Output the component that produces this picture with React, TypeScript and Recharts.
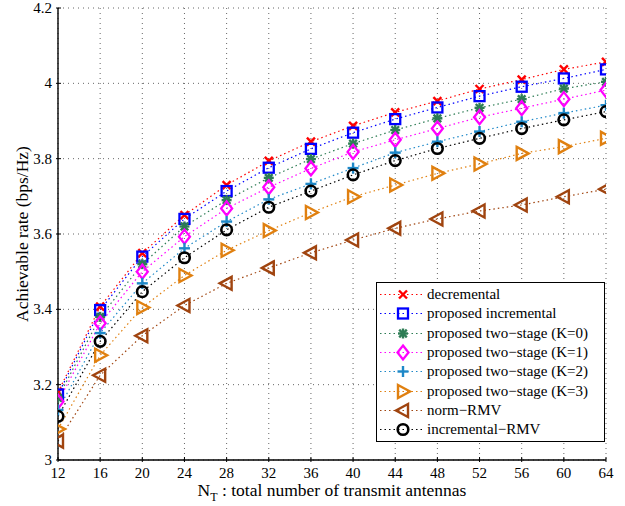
import { LineChart, Line, XAxis, YAxis, CartesianGrid, Legend } from "recharts";

const antennas = [12, 16, 20, 24, 28, 32, 36, 40, 44, 48, 52, 56, 60, 64];
const yTicks = [3, 3.2, 3.4, 3.6, 3.8, 4, 4.2];

const decremental = [3.18, 3.407, 3.549, 3.65, 3.73, 3.794, 3.845, 3.887, 3.923, 3.953, 3.985, 4.01, 4.037, 4.057];
const incremental = [3.174, 3.398, 3.54, 3.64, 3.714, 3.776, 3.826, 3.869, 3.905, 3.936, 3.966, 3.991, 4.013, 4.037];
const twoStageK0 = [3.165, 3.38, 3.52, 3.62, 3.69, 3.749, 3.799, 3.84, 3.876, 3.907, 3.935, 3.958, 3.986, 4.004];
const twoStageK1 = [3.155, 3.363, 3.5, 3.593, 3.668, 3.724, 3.774, 3.818, 3.85, 3.88, 3.91, 3.934, 3.958, 3.982];
const twoStageK2 = [3.133, 3.337, 3.469, 3.562, 3.633, 3.692, 3.733, 3.775, 3.816, 3.845, 3.872, 3.898, 3.921, 3.942];
const twoStageK3 = [3.082, 3.278, 3.405, 3.49, 3.557, 3.609, 3.657, 3.699, 3.73, 3.761, 3.786, 3.814, 3.832, 3.854];
const normRMV = [3.05, 3.225, 3.33, 3.41, 3.469, 3.51, 3.55, 3.584, 3.615, 3.64, 3.661, 3.677, 3.699, 3.719];
const incrementalRMV = [3.116, 3.315, 3.447, 3.537, 3.611, 3.671, 3.714, 3.757, 3.795, 3.827, 3.854, 3.88, 3.903, 3.925];

const serif = "'Liberation Serif', 'Times New Roman', Times, serif";

type MarkerKind = "cross" | "square" | "star" | "diamond" | "plus" | "triRight" | "triLeft" | "circle";

interface Series {
  key: string;
  name: string;
  color: string;
  marker: MarkerKind;
  values: number[];
}

const series: Series[] = [
  { key: "dec", name: "decremental", color: "#ff0000", marker: "cross", values: decremental },
  { key: "inc", name: "proposed incremental", color: "#0000ff", marker: "square", values: incremental },
  { key: "k0", name: "proposed two\u2212stage (K=0)", color: "#2e7d55", marker: "star", values: twoStageK0 },
  { key: "k1", name: "proposed two\u2212stage (K=1)", color: "#ff00ff", marker: "diamond", values: twoStageK1 },
  { key: "k2", name: "proposed two\u2212stage (K=2)", color: "#1e88c8", marker: "plus", values: twoStageK2 },
  { key: "k3", name: "proposed two\u2212stage (K=3)", color: "#e08010", marker: "triRight", values: twoStageK3 },
  { key: "norm", name: "norm\u2212RMV", color: "#a0440f", marker: "triLeft", values: normRMV },
  { key: "incRmv", name: "incremental\u2212RMV", color: "#000000", marker: "circle", values: incrementalRMV },
];

const data = antennas.map((n, i) => {
  const row: Record<string, number> = { n };
  series.forEach((s) => {
    row[s.key] = s.values[i];
  });
  return row;
});

// MATLAB-style marker glyphs
const Marker = ({ kind, cx, cy, color }: { kind: MarkerKind; cx: number; cy: number; color: string }) => {
  switch (kind) {
    case "cross":
      return (
        <g stroke={color} strokeWidth={2.4}>
          <line x1={cx - 4} y1={cy - 4} x2={cx + 4} y2={cy + 4} />
          <line x1={cx - 4} y1={cy + 4} x2={cx + 4} y2={cy - 4} />
        </g>
      );
    case "square":
      return <rect x={cx - 5} y={cy - 5} width={10} height={10} fill="none" stroke={color} strokeWidth={2.3} />;
    case "star":
      return (
        <g stroke={color} strokeWidth={2.4}>
          <line x1={cx - 5} y1={cy} x2={cx + 5} y2={cy} />
          <line x1={cx} y1={cy - 5} x2={cx} y2={cy + 5} />
          <line x1={cx - 3.8} y1={cy - 3.8} x2={cx + 3.8} y2={cy + 3.8} />
          <line x1={cx - 3.8} y1={cy + 3.8} x2={cx + 3.8} y2={cy - 3.8} />
        </g>
      );
    case "diamond":
      return (
        <polygon
          points={`${cx},${cy - 7} ${cx + 5.5},${cy} ${cx},${cy + 7} ${cx - 5.5},${cy}`}
          fill="none"
          stroke={color}
          strokeWidth={2.3}
        />
      );
    case "plus":
      return (
        <g stroke={color} strokeWidth={2.4}>
          <line x1={cx - 5.5} y1={cy} x2={cx + 5.5} y2={cy} />
          <line x1={cx} y1={cy - 5.5} x2={cx} y2={cy + 5.5} />
        </g>
      );
    case "triRight":
      return (
        <polygon
          points={`${cx - 5},${cy - 6.5} ${cx + 7},${cy} ${cx - 5},${cy + 6.5}`}
          fill="none"
          stroke={color}
          strokeWidth={2.4}
        />
      );
    case "triLeft":
      return (
        <polygon
          points={`${cx + 5},${cy - 6.5} ${cx - 7},${cy} ${cx + 5},${cy + 6.5}`}
          fill="none"
          stroke={color}
          strokeWidth={2.4}
        />
      );
    default:
      return <circle cx={cx} cy={cy} r={5.3} fill="none" stroke={color} strokeWidth={2.6} />;
  }
};

const BottomTick = ({ x, y, payload }: any) => (
  <g>
    <line x1={x} x2={x} y1={y} y2={y - 5} stroke="#000" />
    <text x={x} y={y + 16} textAnchor="middle" fontSize={15} fontFamily={serif} fill="#000">
      {payload.value}
    </text>
  </g>
);

const TopTick = ({ x, y }: any) => <line x1={x} x2={x} y1={y} y2={y + 5} stroke="#000" />;

const LeftTick = ({ x, y, payload }: any) => (
  <g>
    <line x1={x} x2={x + 5} y1={y} y2={y} stroke="#000" />
    <text x={x - 4} y={y + 5} textAnchor="end" fontSize={15} fontFamily={serif} fill="#000">
      {payload.value}
    </text>
  </g>
);

const RightTick = ({ x, y }: any) => <line x1={x} x2={x - 5} y1={y} y2={y} stroke="#000" />;

const LegendBox = () => (
  <div
    style={{
      position: "absolute",
      left: 376,
      top: 282,
      width: 227,
      height: 156,
      border: "1px solid #000",
      background: "#fff",
      paddingTop: 2,
      boxSizing: "content-box",
    }}
  >
    {series.map((s) => (
      <div key={s.key} style={{ display: "flex", alignItems: "center", height: 19.3 }}>
        <svg width={48} height={19} style={{ flex: "none" }}>
          <line x1={3} x2={45} y1={9.5} y2={9.5} stroke={s.color} strokeWidth={1.2} strokeDasharray="1.5 3" />
          <Marker kind={s.marker} cx={26} cy={9.5} color={s.color} />
        </svg>
        <span style={{ fontFamily: serif, fontSize: 15, color: "#000", marginLeft: 2, whiteSpace: "nowrap" }}>
          {s.name}
        </span>
      </div>
    ))}
  </div>
);

export default function App() {
  return (
    <div style={{ position: "absolute", left: 0, top: 0, width: 625, height: 506, background: "#fff" }}>
      <LineChart width={625} height={506} data={data} margin={{ top: 8, right: 19, left: 0, bottom: 0 }}>
        <CartesianGrid stroke="#555" strokeDasharray="1 4" strokeWidth={0.9} />
        <XAxis
          dataKey="n"
          type="number"
          domain={[12, 64]}
          ticks={antennas}
          height={46}
          tickSize={0}
          tickLine={false}
          axisLine={{ stroke: "#000", strokeWidth: 1.4 }}
          tick={<BottomTick />}
          interval={0}
          allowDataOverflow
        />
        <XAxis
          xAxisId="top"
          orientation="top"
          dataKey="n"
          type="number"
          domain={[12, 64]}
          ticks={antennas}
          height={0}
          tickSize={0}
          tickLine={false}
          axisLine={{ stroke: "#000", strokeWidth: 1.4 }}
          tick={<TopTick />}
          interval={0}
          allowDataOverflow
        />
        <YAxis
          type="number"
          domain={[3, 4.2]}
          ticks={yTicks}
          width={58}
          tickSize={0}
          tickLine={false}
          axisLine={{ stroke: "#000", strokeWidth: 1.4 }}
          tick={<LeftTick />}
          interval={0}
          allowDataOverflow
        />
        <YAxis
          yAxisId="right"
          orientation="right"
          type="number"
          domain={[3, 4.2]}
          ticks={yTicks}
          width={0}
          tickSize={0}
          tickLine={false}
          axisLine={{ stroke: "#000", strokeWidth: 1.4 }}
          tick={<RightTick />}
          interval={0}
          allowDataOverflow
        />
        {series.map((s) => (
          <Line
            key={s.key}
            dataKey={s.key}
            name={s.name}
            type="linear"
            stroke={s.color}
            strokeWidth={1.2}
            strokeDasharray="1.5 3"
            isAnimationActive={false}
            activeDot={false}
            dot={(p: any) => <Marker key={`${s.key}-${p.index}`} kind={s.marker} cx={p.cx} cy={p.cy} color={s.color} />}
          />
        ))}
        <Legend
          layout="vertical"
          align="center"
          verticalAlign="middle"
          wrapperStyle={{ position: "absolute", left: 0, top: 0, width: 0, height: 0 }}
          content={() => <LegendBox />}
        />
        <text
          x={28}
          y={234}
          transform="rotate(-90, 28, 234)"
          textAnchor="middle"
          fontSize={17.5}
          fontFamily={serif}
          fill="#000"
        >
          Achievable rate (bps/Hz)
        </text>
        <text x={332} y={496} textAnchor="middle" fontSize={17.5} fontFamily={serif} fill="#000">
          N<tspan fontSize={12} dy={5}>T</tspan>
          <tspan dy={-5}> : total number of transmit antennas</tspan>
        </text>
      </LineChart>
    </div>
  );
}
